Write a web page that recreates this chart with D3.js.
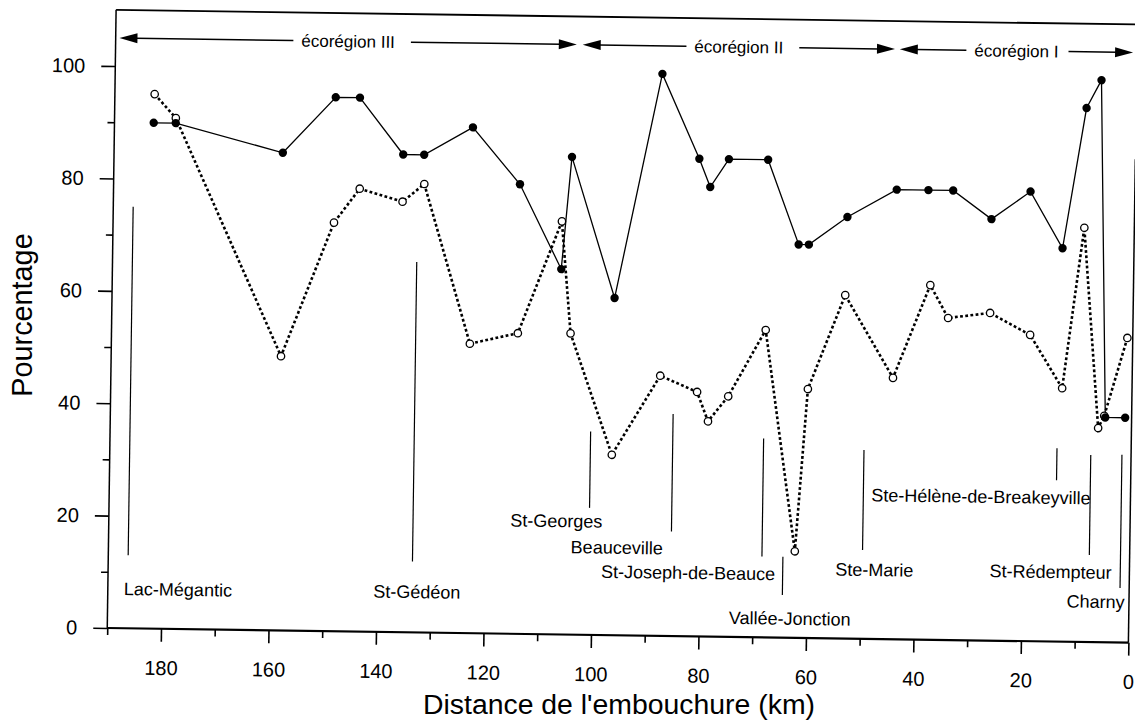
<!DOCTYPE html>
<html><head><meta charset="utf-8">
<script src="https://cdn.jsdelivr.net/npm/d3@7"></script>
<style>
body{margin:0;background:#fff}
svg{display:block;background:#fff}
</style>
</head><body>
<svg id="chart" width="1135" height="724"></svg>
<script>
// ---------- data ----------
const kmFilled  = [182.7,178.6,158.6,148.9,144.4,136.2,132.3,123.3,114.4,106.5,104.8,96.5,88.2,81.1,79.0,75.6,68.3,62.4,60.5,53.4,44.3,38.4,33.8,26.6,19.4,13.3,9.2,6.5,4.9,1.2];
const pctFilled = [90,90,85,95,95,85,85,90,80,65,85,60,100,85,80,85,85,70,70,75,80,80,80,75,80,70,95,100,40,40];
const kmOpen    = [182.6,178.6,158.4,148.9,144.2,136.2,132.2,123.3,114.4,106.5,104.6,96.6,87.8,80.9,78.8,75.1,68.3,62.3,60.3,53.6,44.5,37.8,34.4,26.6,19.1,13.0,9.3,6.2,5.1,1.0];
const pctOpen   = [95.1,90.9,48.8,72.7,78.8,76.6,79.8,51.5,53.5,73.5,53.6,32.1,46.3,43.5,38.3,42.8,54.7,15.4,44.3,61.1,46.5,63.1,57.3,58.3,54.5,45.1,73.7,38.1,40.3,54.2];

const xMajorTicks = [180,160,140,120,100,80,60,40,20,0];
const xMinorTicks = [190,170,150,130,110,90,70,50,30,10];
const yMajorTicks = [0,20,40,60,80,100];
const yMinorTicks = [10,30,50,70,90];

const stationNames   = ["Lac-Mégantic","St-Gédéon","St-Georges","Beauceville","St-Joseph-de-Beauce","Vallée-Jonction","Ste-Marie","Ste-Hélène-de-Breakeyville","St-Rédempteur","Charny"];
const stationKm      = [186.3,133.4,100.6,85.3,68.4,64.5,49.7,13.8,7.5,1.7];
const stationTop     = [75.0,65.9,36.2,39.5,35.4,14.4,33.6,34.4,33.3,33.4];
const stationBottom  = [13.0,12.6,22.6,18.6,14.4,7.6,15.8,28.7,15.5,9.7];
const labelKm        = [187.0,140.6,115.3,104.0,98.3,74.4,54.7,48.2,26.0,11.6];
const labelPct       = [5.9,6.1,19.1,14.5,10.2,2.3,11.2,24.5,11.3,6.1];

const ecoNames = ["écorégion III","écorégion II","écorégion I"];
const ecoStart = [189.3,103.1,44.1];
const ecoEnd   = [104.2,45.0,0.7];
const ecoLevel = 105;

const xTitle = "Distance de l'embouchure (km)";
const yTitle = "Pourcentage";

// ---------- drawing ----------
const FONT = '"Liberation Sans", Arial, Helvetica, sans-serif';
const svg = d3.select("#chart");
const x = d3.scaleLinear().domain([190,0]).range([107.25,1128.5]);
const y = d3.scaleLinear().domain([0,110]).range([628,9.8]);

const g = svg.append("g").attr("transform","rotate(0.82,107,628)")
  .attr("font-family",FONT);

// frame
g.append("line").attr("x1",x(190)).attr("x2",x(0)+40).attr("y1",y(110)).attr("y2",y(110))
  .attr("stroke","#000").attr("stroke-width",1.8);
g.append("line").attr("x1",x(190)).attr("x2",x(190)).attr("y1",y(0)).attr("y2",y(110))
  .attr("stroke","#000").attr("stroke-width",1.5);
g.append("line").attr("x1",x(0)).attr("x2",x(0)).attr("y1",y(0)).attr("y2",y(86))
  .attr("stroke","#000").attr("stroke-width",1.5);
g.append("line").attr("x1",x(190)).attr("x2",x(0)).attr("y1",y(0)).attr("y2",y(0))
  .attr("stroke","#000").attr("stroke-width",2.2);

// axes
function styleAxis(sel){
  sel.select(".domain").remove();
  sel.selectAll(".tick line").attr("stroke","#000").attr("stroke-width",1.6);
  sel.attr("font-family",FONT).attr("font-size",20);
  sel.selectAll("text").attr("fill","#000");
}
g.append("g").attr("transform",`translate(0,${y(0)})`)
  .call(d3.axisBottom(x).tickValues(xMajorTicks).tickSize(13).tickSizeOuter(0).tickPadding(19).tickFormat(d3.format("d")))
  .call(styleAxis);
g.append("g").attr("transform",`translate(0,${y(0)})`)
  .call(d3.axisBottom(x).tickValues(xMinorTicks).tickSize(7).tickSizeOuter(0).tickFormat(""))
  .call(styleAxis);
g.append("g").attr("transform",`translate(${x(190)},0)`)
  .call(d3.axisLeft(y).tickValues(yMajorTicks).tickSize(14).tickSizeOuter(0).tickPadding(16).tickFormat(d3.format("d")))
  .call(styleAxis);
g.append("g").attr("transform",`translate(${x(190)},0)`)
  .call(d3.axisLeft(y).tickValues(yMinorTicks).tickSize(7).tickSizeOuter(0).tickFormat(""))
  .call(styleAxis);

// axis titles (not tilted in the scan)
svg.append("text").attr("x",619).attr("y",714).attr("text-anchor","middle")
  .attr("font-family",FONT).attr("font-size",28.4).attr("fill","#000").text(xTitle);
svg.append("text").attr("transform","translate(32,315) rotate(-90)").attr("text-anchor","middle")
  .attr("font-family",FONT).attr("font-size",28.8).attr("fill","#000").text(yTitle);

// ecoregion arrows
const ay = y(ecoLevel);
ecoNames.forEach((name,i)=>{
  const x0 = x(ecoStart[i]), x1 = x(ecoEnd[i]);
  const cx = (x0+x1)/2;
  const t = g.append("text").attr("x",cx).attr("y",ay+6).attr("text-anchor","middle")
    .attr("font-size",17).attr("fill","#000").text(name);
  const w = t.node().getComputedTextLength();
  const gl = 8, gr = (i===2?10:16), ah = 18;
  g.append("line").attr("x1",x0+ah-2).attr("x2",cx-w/2-gl).attr("y1",ay).attr("y2",ay)
    .attr("stroke","#000").attr("stroke-width",1.5);
  g.append("line").attr("x1",cx+w/2+gr).attr("x2",x1-ah+2).attr("y1",ay).attr("y2",ay)
    .attr("stroke","#000").attr("stroke-width",1.5);
  g.append("polygon").attr("points",`${x0},${ay} ${x0+ah},${ay-5} ${x0+ah},${ay+5}`).attr("fill","#000");
  g.append("polygon").attr("points",`${x1},${ay} ${x1-ah},${ay-5} ${x1-ah},${ay+5}`).attr("fill","#000");
});

// station marker lines + labels
const stations = stationNames.map((n,i)=>({name:n,km:stationKm[i],top:stationTop[i],bot:stationBottom[i],lk:labelKm[i],lp:labelPct[i]}));
g.selectAll("line.st").data(stations).join("line").attr("class","st")
  .attr("x1",d=>x(d.km)).attr("x2",d=>x(d.km)).attr("y1",d=>y(d.top)).attr("y2",d=>y(d.bot))
  .attr("stroke","#000").attr("stroke-width",1.2);
g.selectAll("text.st").data(stations).join("text").attr("class","st")
  .attr("x",d=>x(d.lk)).attr("y",d=>y(d.lp)).attr("font-size",18).attr("fill","#000")
  .text(d=>d.name);

// series
const open = kmOpen.map((k,i)=>[k,pctOpen[i]]);
const filled = kmFilled.map((k,i)=>[k,pctFilled[i]]);
const line = d3.line().x(d=>x(d[0])).y(d=>y(d[1]));
g.append("path").attr("d",line(open)).attr("fill","none").attr("stroke","#000")
  .attr("stroke-width",2.6).attr("stroke-dasharray","2.8,2.4");
g.append("path").attr("d",line(filled)).attr("fill","none").attr("stroke","#000")
  .attr("stroke-width",1.3);
g.selectAll("circle.o").data(open).join("circle").attr("class","o")
  .attr("cx",d=>x(d[0])).attr("cy",d=>y(d[1])).attr("r",3.7)
  .attr("fill","#fff").attr("stroke","#000").attr("stroke-width",1.3);
g.selectAll("circle.f").data(filled).join("circle").attr("class","f")
  .attr("cx",d=>x(d[0])).attr("cy",d=>y(d[1])).attr("r",4.2).attr("fill","#000");
</script>
</body></html>
